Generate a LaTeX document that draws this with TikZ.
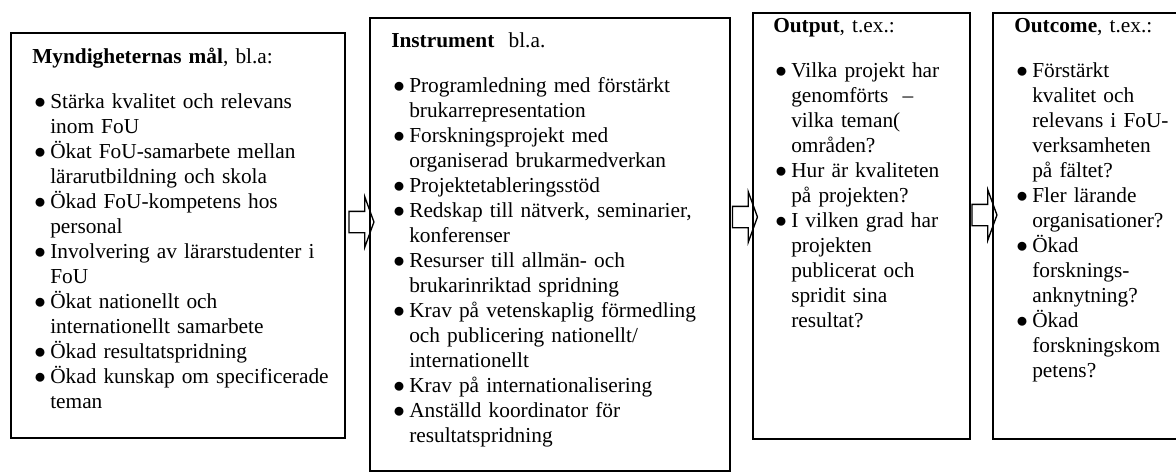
\documentclass[tikz,border=0pt]{standalone}
\usepackage{fontspec}
\setmainfont{Liberation Serif}
\usetikzlibrary{positioning, fit, shapes.arrows}

\newcommand\punkt{\par\hangindent=13.5pt\hangafter=1\noindent\makebox[13.5pt][l]{\hspace{1.5pt}$\bullet$}}
\newcommand\rubrik[2]{\textbf{#1}#2\par\vspace{14.5pt}}

\begin{document}
\begin{tikzpicture}[
    x=0.75pt, y=-0.75pt,
    every node/.style={font=\fontsize{16}{18.75}\selectfont},
    ruta/.style={draw, line width=1.2pt, inner sep=0pt},
    txt/.style={anchor=base west, inner sep=0pt, text width=11cm, align=left},
    pil/.style={draw, line width=1pt, single arrow, single arrow tip angle=140,
        single arrow head extend=10.9pt, minimum height=18.75pt,
        inner xsep=0pt, inner ysep=7.5pt, text height=0pt, text depth=0pt}
]
    \useasboundingbox (0,0) rectangle (1176,474);

    % Define boxes
    \node[ruta, fit={(11,33) (345,438)}] (maal) {};
    \node[ruta, fit={(370,18) (730,471)}] (instr) {};
    \node[ruta, fit={(753,13) (970,439)}] (outp) {};
    \node[ruta, fit={(993,13) (1180,439)}] (outc) {};

    % Box texts
    \node[txt] (maaltxt) at (32,64) {\rubrik{Myndigheternas mål}{, bl.a:}
        \punkt Stärka kvalitet och relevans\newline inom FoU
        \punkt Ökat FoU-samarbete mellan\newline lärarutbildning och skola
        \punkt Ökad FoU-kompetens hos\newline personal
        \punkt Involvering av lärarstudenter i\newline FoU
        \punkt Ökat nationellt och\newline internationellt samarbete
        \punkt Ökad resultatspridning
        \punkt Ökad kunskap om specificerade\newline teman\par};
    \node[txt] (instrtxt) at (391,48) {\rubrik{Instrument}{\ \ bl.a.}
        \punkt Programledning med förstärkt\newline brukarrepresentation
        \punkt Forskningsprojekt med\newline organiserad brukarmedverkan
        \punkt Projektetableringsstöd
        \punkt Redskap till nätverk, seminarier,\newline konferenser
        \punkt Resurser till allmän- och\newline brukarinriktad spridning
        \punkt Krav på vetenskaplig förmedling\newline och publicering nationellt/\newline internationellt
        \punkt Krav på internationalisering
        \punkt Anställd koordinator för\newline resultatspridning\par};
    \node[txt] (outptxt) at (773,33) {\rubrik{Output}{, t.ex.:}
        \punkt Vilka projekt har\newline genomförts\ \ --\newline vilka teman(\newline områden?
        \punkt Hur är kvaliteten\newline på projekten?
        \punkt I vilken grad har\newline projekten\newline publicerat och\newline spridit sina\newline resultat?\par};
    \node[txt] (outctxt) at (1014,33) {\rubrik{Outcome}{, t.ex.:}
        \punkt Förstärkt\newline kvalitet och\newline relevans i FoU-\newline verksamheten\newline på fältet?
        \punkt Fler lärande\newline organisationer?
        \punkt Ökad\newline forsknings-\newline anknytning?
        \punkt Ökad\newline forskningskom\newline petens?\par};

    % Block arrows
    \node[pil] (pil1) at (359.5,222) {};
    \node[pil] (pil2) at (743,217) {};
    \node[pil] (pil3) at (982.5,215) {};
\end{tikzpicture}
\end{document}
